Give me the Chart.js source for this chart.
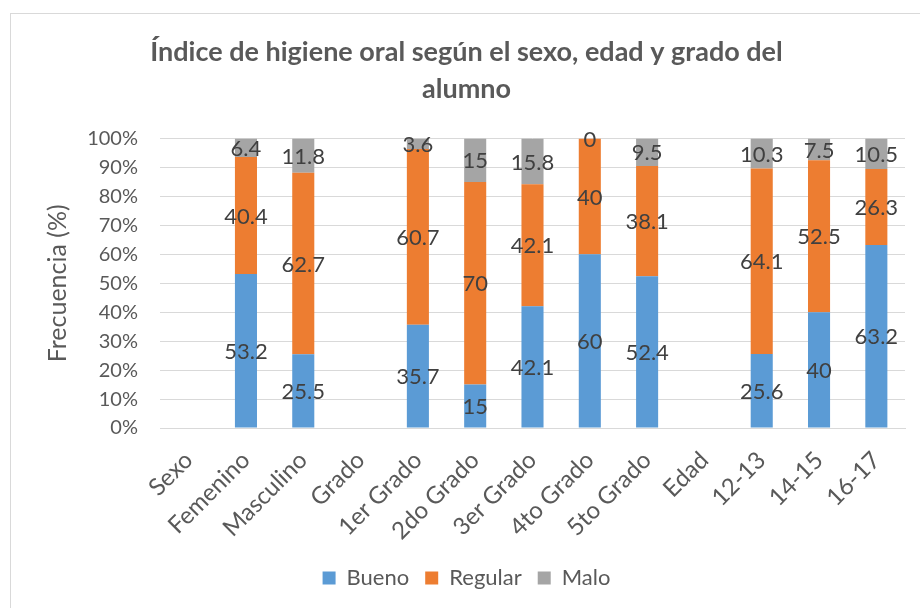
<!DOCTYPE html>
<html>
<head>
<meta charset="utf-8">
<script src="https://cdn.jsdelivr.net/npm/chart.js@4"></script>
<style>
  html, body { margin: 0; padding: 0; background: #fff; overflow: hidden; }
  #marco { position: absolute; left: 10px; top: 13px; width: 960px; height: 660px; border: 1px solid #d9d9d9; }
  #caja { position: absolute; left: 0; top: 0; width: 920px; height: 608px; }
</style>
</head>
<body>
<div id="marco"></div>
<div id="caja"><canvas id="grafico" width="920" height="608"></canvas></div>
<script>
// datos
const categorias = ['Sexo', 'Femenino', 'Masculino', 'Grado', '1er Grado', '2do Grado', '3er Grado', '4to Grado', '5to Grado', 'Edad', '12-13', '14-15', '16-17']
const bueno   = [null, 53.2, 25.5, null, 35.7, 15, 42.1, 60, 52.4, null, 25.6, 40, 63.2]
const regular = [null, 40.4, 62.7, null, 60.7, 70, 42.1, 40, 38.1, null, 64.1, 52.5, 26.3]
const malo    = [null, 6.4, 11.8, null, 3.6, 15, 15.8, 0, 9.5, null, 10.3, 7.5, 10.5]
const titulo = ['Índice de higiene oral según el sexo, edad y grado del', 'alumno']
const tituloEje = 'Frecuencia (%)'

const fuente = 'Lato, "Open Sans", sans-serif'

// etiquetas de datos (centro de cada segmento)
const etiquetas = {
    id: 'etiquetas',
    afterDatasetsDraw(chart) {
        const c = chart.ctx
        c.save()
        c.font = '22px ' + fuente
        c.fillStyle = '#404040'
        c.textAlign = 'center'
        c.textBaseline = 'middle'
        chart.data.datasets.forEach((ds, i) => {
            const meta = chart.getDatasetMeta(i)
            meta.data.forEach((barra, j) => {
                const v = ds.data[j]
                if (v === null || v === undefined) return
                const p = barra.getProps(['x', 'y', 'base'], true)
                c.fillText(String(v), p.x, (p.y + p.base) / 2 + 1)
            })
        })
        c.restore()
    }
}

new Chart(document.getElementById('grafico'), {
    type: 'bar',
    data: {
        labels: categorias,
        datasets: [
            { label: 'Bueno', data: bueno, backgroundColor: '#5B9BD5' },
            { label: 'Regular', data: regular, backgroundColor: '#ED7D31' },
            { label: 'Malo', data: malo, backgroundColor: '#A5A5A5' }
        ]
    },
    options: {
        responsive: false,
        animation: false,
        layout: { padding: { left: 28, right: 15, top: 33, bottom: 9 } },
        datasets: { bar: { categoryPercentage: 1, barPercentage: 0.385 } },
        plugins: {
            title: {
                display: true,
                text: titulo,
                color: '#595959',
                font: { family: fuente, size: 27, weight: 'bold', lineHeight: 1.4 },
                padding: { top: 0, bottom: 30 }
            },
            legend: {
                position: 'bottom',
                labels: {
                    color: '#595959',
                    font: { family: fuente, size: 22 },
                    boxWidth: 13,
                    boxHeight: 13,
                    padding: 16
                }
            },
            tooltip: { enabled: false }
        },
        scales: {
            x: {
                stacked: true,
                grid: { display: false },
                border: { color: '#d9d9d9' },
                ticks: {
                    color: '#595959',
                    font: { family: fuente, size: 24 },
                    minRotation: 45,
                    maxRotation: 45,
                    autoSkip: false,
                    padding: 10
                },
                afterFit: (escala) => { escala.height = 123 }
            },
            y: {
                stacked: true,
                min: 0,
                max: 100,
                grid: { color: '#d9d9d9', drawTicks: false },
                border: { display: false },
                ticks: {
                    stepSize: 10,
                    color: '#595959',
                    padding: 22,
                    font: { family: fuente, size: 20 },
                    callback: (v) => v + '%'
                },
                title: {
                    display: true,
                    text: tituloEje,
                    color: '#595959',
                    font: { family: fuente, size: 25 },
                    padding: { top: 15, bottom: 0 }
                },
                afterFit: (escala) => { escala.width = 132 }
            }
        }
    },
    plugins: [etiquetas]
})
</script>
</body>
</html>
